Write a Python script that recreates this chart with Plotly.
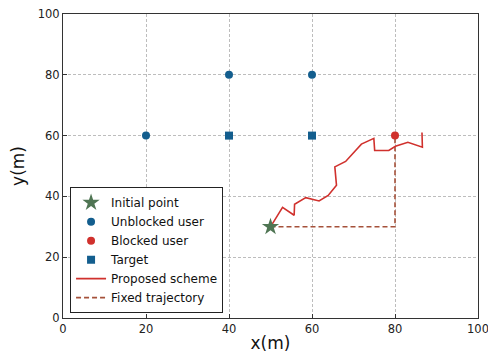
import plotly.graph_objects as go

start = ([50], [30])
unblocked_x = [20, 40, 60]
unblocked_y = [60, 80, 80]
blocked_x = [80]
blocked_y = [60]
target_x = [40, 60]
target_y = [60, 60]
proposed_x = [50, 52.9, 55.7, 55.8, 58.5, 61.7, 63.9, 65.9, 65.5, 68.1, 71.9, 74.9, 75.1, 78.5, 80.1, 83.1, 86.6, 86.5]
proposed_y = [30, 36.4, 33.8, 37.4, 39.6, 38.5, 40.3, 43.7, 49.7, 51.5, 57.2, 59.1, 55.1, 55.1, 56.5, 57.8, 56.2, 61]
fixed_x = [50, 80, 80]
fixed_y = [30, 30, 60]
ticks = [0, 20, 40, 60, 80, 100]

fig = go.Figure()
fig.add_trace(go.Scatter(x=fixed_x, y=fixed_y, mode="lines", name="Fixed trajectory",
                         line=dict(color="#a5513a", width=1.6, dash="5px,3px"), showlegend=False))
fig.add_trace(go.Scatter(x=proposed_x, y=proposed_y, mode="lines", name="Proposed scheme",
                         line=dict(color="#d0312d", width=1.6), showlegend=False))
fig.add_trace(go.Scatter(x=start[0], y=start[1], mode="markers", name="Initial point",
                         marker=dict(symbol="star", size=13, color="#4f7553")))
fig.add_trace(go.Scatter(x=unblocked_x, y=unblocked_y, mode="markers", name="Unblocked user",
                         marker=dict(symbol="circle", size=8, color="#135e8e")))
fig.add_trace(go.Scatter(x=blocked_x, y=blocked_y, mode="markers", name="Blocked user",
                         marker=dict(symbol="circle", size=8, color="#d0312d")))
fig.add_trace(go.Scatter(x=target_x, y=target_y, mode="markers", name="Target",
                         marker=dict(symbol="square", size=8, color="#135e8e")))
fig.add_trace(go.Scatter(x=[None], y=[None], mode="lines", name="Proposed scheme",
                         line=dict(color="#d0312d", width=1.6)))
fig.add_trace(go.Scatter(x=[None], y=[None], mode="lines", name="Fixed trajectory",
                         line=dict(color="#a5513a", width=1.6, dash="5px,3px")))

axis_common = dict(range=[0, 100], tickvals=ticks, showgrid=True, gridcolor="#bdbdbd",
                   griddash="3px,2px", gridwidth=1, zeroline=False, showline=True, mirror=True,
                   linecolor="#333", linewidth=1.2, ticks="inside", ticklen=4, tickcolor="#333",
                   tickfont=dict(size=11.5, color="#222"), automargin=False,
                   ticklabeloverflow="allow")
fig.update_xaxes(**axis_common, title=dict(text="x(m)", font=dict(size=17, color="#111"), standoff=2))
fig.update_yaxes(**axis_common, title=dict(text="y(m)", font=dict(size=17, color="#111"), standoff=11))

# page body has an 8px default margin, so the figure is 8px smaller and margins shifted
fig.update_layout(
    width=488, height=349,
    margin=dict(l=55, r=18, t=6, b=39, autoexpand=False),
    paper_bgcolor="white", plot_bgcolor="white",
    font=dict(family="DejaVu Sans", color="#111"),
    legend=dict(x=0.017, y=0.016, xanchor="left", yanchor="bottom",
                bgcolor="white", bordercolor="#222", borderwidth=1,
                font=dict(size=12), tracegroupgap=0),
)
fig.write_html("out.html")
